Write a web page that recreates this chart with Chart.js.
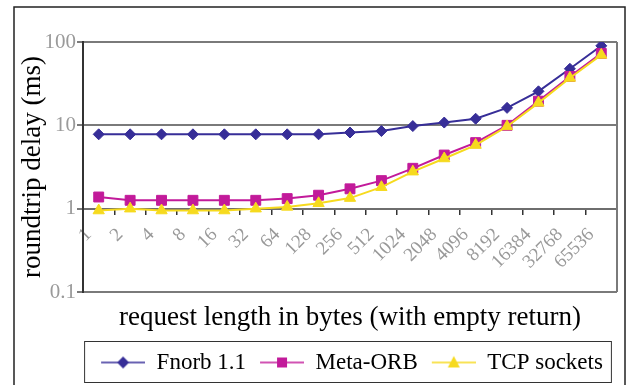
<!DOCTYPE html>
<html>
<head>
<meta charset="utf-8">
<script src="https://cdn.jsdelivr.net/npm/chart.js@4/dist/chart.umd.min.js"></script>
<style>
  html, body { margin: 0; padding: 0; background: #fff; }
  #wrap { width: 629px; height: 385px; }
</style>
</head>
<body>
<div id="wrap"><canvas id="delayChart" width="629" height="385"></canvas></div>
<script>
// =============================================================================
// DATA
// =============================================================================

// request sizes in bytes (x categories)
const requestSizes = ['1', '2', '4', '8', '16', '32', '64', '128', '256', '512',
  '1024', '2048', '4096', '8192', '16384', '32768', '65536'];

// roundtrip delay in ms
const fnorbDelay = [7.8, 7.8, 7.8, 7.8, 7.8, 7.8, 7.8, 7.8, 8.2, 8.55,
  9.8, 10.8, 12.0, 16.2, 25.6, 47.7, 90];
const metaOrbDelay = [1.38, 1.26, 1.26, 1.26, 1.26, 1.26, 1.32, 1.45, 1.73, 2.17,
  3.05, 4.4, 6.2, 10.0, 19.5, 38.6, 73];
const tcpDelay = [0.95, 1.0, 0.95, 0.95, 0.95, 1.0, 1.05, 1.16, 1.34, 1.81,
  2.78, 4.0, 5.8, 9.7, 18.6, 37, 70];

// y axis ticks (log scale)
const delayTicks = [0.1, 1, 10, 100];

const seriesNames = ['Fnorb 1.1', 'Meta-ORB', 'TCP sockets'];

// =============================================================================
// HELPERS
// =============================================================================

const SERIF = "'Liberation Serif', 'Times New Roman', serif";
const NAVY = '#372E98';
const MAGENTA = '#C21A9A';
const YELLOW = '#F6DA1E';

// Legend swatch: short line with the marker in the middle
function makeSwatch(color, style) {
    let c = document.createElement('canvas');
    c.width = 48;
    c.height = 20;
    let g = c.getContext('2d');
    g.strokeStyle = color;
    g.lineWidth = 1.5;
    g.beginPath();
    g.moveTo(4, 10);
    g.lineTo(48, 10);
    g.stroke();
    g.fillStyle = color;
    g.beginPath();
    if (style === 'rectRot') {
        g.moveTo(26, 4); g.lineTo(32, 10); g.lineTo(26, 16); g.lineTo(20, 10);
    } else if (style === 'rect') {
        g.rect(21, 5, 10, 10);
    } else {
        g.moveTo(26, 3.5); g.lineTo(32, 15); g.lineTo(20, 15);
    }
    g.closePath();
    g.fill();
    return c;
}

// Outer frame, right plot edge and legend box
const framePlugin = {
    id: 'frame',
    afterDraw(chart) {
        let ctx = chart.ctx;
        let area = chart.chartArea;
        ctx.save();
        // right border of the plot area
        ctx.strokeStyle = '#7a7a7a';
        ctx.lineWidth = 2;
        ctx.beginPath();
        ctx.moveTo(area.right, area.top);
        ctx.lineTo(area.right, area.bottom);
        ctx.stroke();

        // figure frame
        ctx.strokeStyle = '#222';
        ctx.lineWidth = 1.5;
        ctx.strokeRect(14, 7, 611, 400);

        // legend box
        let boxes = chart.legend.legendHitBoxes;
        if (boxes && boxes.length) {
            let first = boxes[0];
            let last = boxes[boxes.length - 1];
            let lg = chart.legend;
            ctx.strokeStyle = '#333';
            ctx.lineWidth = 1;
            ctx.strokeRect(first.left - 12.5, lg.top + 0.5,
                (last.left + last.width + 9) - (first.left - 12), lg.bottom - lg.top - 2);
        }
        ctx.restore();
    }
};

// =============================================================================
// CHART
// =============================================================================

function createChart() {
    let ctx = document.getElementById('delayChart').getContext('2d');
    let swatches = [
        makeSwatch(NAVY, 'rectRot'),
        makeSwatch(MAGENTA, 'rect'),
        makeSwatch(YELLOW, 'triangle')
    ];

    return new Chart(ctx, {
        type: 'line',
        data: {
            labels: requestSizes,
            datasets: [{
                label: seriesNames[0],
                data: fnorbDelay,
                borderColor: NAVY,
                backgroundColor: NAVY,
                pointStyle: 'rectRot',
                pointRadius: 5.5,
                order: 2
            }, {
                label: seriesNames[1],
                data: metaOrbDelay,
                borderColor: MAGENTA,
                backgroundColor: MAGENTA,
                pointStyle: 'rect',
                pointRadius: 7,
                order: 1
            }, {
                label: seriesNames[2],
                data: tcpDelay,
                borderColor: YELLOW,
                backgroundColor: YELLOW,
                pointStyle: 'triangle',
                pointRadius: 6.5,
                order: 0
            }]
        },
        options: {
            responsive: false,
            animation: false,
            devicePixelRatio: 1,
            layout: { padding: { top: 42, left: 14, right: 12, bottom: 1 } },
            elements: {
                line: { borderWidth: 2, tension: 0 },
                point: { borderWidth: 1 }
            },
            scales: {
                x: {
                    type: 'category',
                    position: { y: 1 },
                    offset: true,
                    border: { display: true, color: '#6e6e6e', width: 2 },
                    grid: {
                        offset: true,
                        drawOnChartArea: false,
                        drawTicks: true,
                        tickLength: 5,
                        color: '#333',
                        lineWidth: 1.5
                    },
                    ticks: {
                        autoSkip: false,
                        minRotation: 45,
                        maxRotation: 45,
                        padding: 10,
                        labelOffset: -10,
                        color: '#999',
                        font: { family: SERIF, size: 19 }
                    }
                },
                y: {
                    type: 'logarithmic',
                    min: 0.1,
                    max: 100,
                    afterBuildTicks: (scale) => {
                        scale.ticks = delayTicks.map(v => ({ value: v, major: true }));
                    },
                    afterFit: (scale) => { scale.width = 69; },
                    border: { display: true, color: '#333', width: 2 },
                    grid: {
                        color: '#7a7a7a',
                        lineWidth: 2,
                        tickLength: 6
                    },
                    ticks: {
                        padding: 1,
                        color: '#9a9a9a',
                        font: { family: SERIF, size: 21, weight: 'normal' },
                        callback: (v) => String(v)
                    },
                    title: {
                        display: true,
                        text: 'roundtrip delay (ms)',
                        color: '#000',
                        padding: { top: 3, bottom: 0 },
                        font: { family: SERIF, size: 27, weight: 'normal' }
                    }
                }
            },
            plugins: {
                tooltip: { enabled: false },
                title: {
                    display: true,
                    position: 'bottom',
                    fullSize: false,
                    weight: 500,
                    text: 'request length in bytes (with empty return)',
                    color: '#000',
                    padding: { top: 10, bottom: 6.6 },
                    font: { family: SERIF, size: 27, weight: 'normal' }
                },
                legend: {
                    position: 'bottom',
                    fullSize: false,
                    labels: {
                        usePointStyle: true,
                        pointStyleWidth: 48,
                        padding: 10,
                        color: '#000',
                        font: { family: SERIF, size: 23, weight: 'normal' },
                        generateLabels: (chart) => chart.data.datasets.map((ds, i) => ({
                            text: ds.label,
                            pointStyle: swatches[i],
                            fillStyle: ds.borderColor,
                            strokeStyle: ds.borderColor,
                            lineWidth: 0,
                            hidden: false,
                            datasetIndex: i
                        }))
                    }
                }
            }
        },
        plugins: [framePlugin]
    });
}

window.addEventListener('DOMContentLoaded', () => {
    createChart();
});
</script>
</body>
</html>
